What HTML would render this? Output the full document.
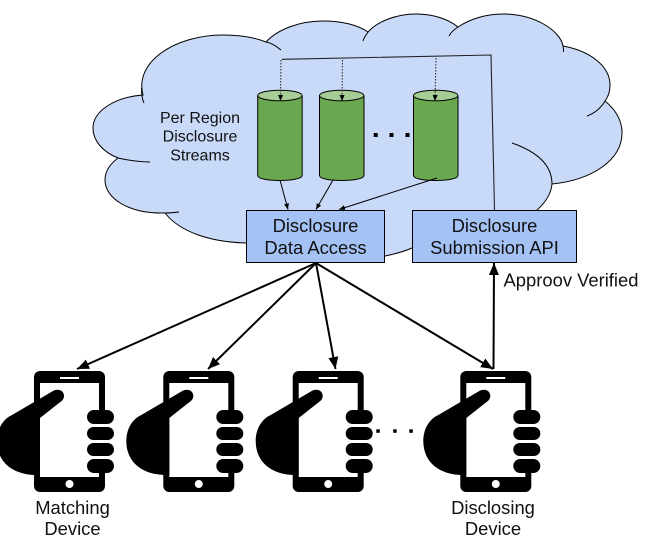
<!DOCTYPE html>
<html lang="en">
<head>
<meta charset="utf-8">
<title>Disclosure Architecture</title>
<style>
html,body{margin:0;padding:0;background:#fff;width:656px;height:541px;overflow:hidden}
svg{display:block}
text{font-family:"Liberation Sans",Arial,sans-serif;fill:#111;text-anchor:middle}
.m{font-size:18.4px}
.s{font-size:16px}
</style>
</head>
<body>
<svg width="656" height="541" viewBox="0 0 656 541" xmlns="http://www.w3.org/2000/svg">
<defs>
<marker id="big" markerUnits="userSpaceOnUse" markerWidth="14" markerHeight="12" refX="12" refY="5" orient="auto">
<path d="M0,0 L12,5 L0,10 Z" fill="#000"/>
</marker>
<marker id="small" markerUnits="userSpaceOnUse" markerWidth="7" markerHeight="7" refX="6" refY="2.5" orient="auto">
<path d="M0,0 L6,2.5 L0,5 Z" fill="#000"/>
</marker>
<g id="phone">
<rect x="0" y="0" width="71" height="121" rx="6" fill="#000"/>
<rect x="6" y="12" width="59" height="94" fill="#fff"/>
<rect x="26" y="6" width="19" height="2" fill="#fff"/>
<circle cx="35.5" cy="113" r="4" fill="#fff"/>
<rect x="53" y="40" width="18.5" height="62" fill="#fff"/>
<rect x="53" y="39" width="27" height="14" rx="7" fill="#000"/>
<rect x="53" y="56" width="27" height="13" rx="6.5" fill="#000"/>
<rect x="53" y="72" width="27" height="13" rx="6.5" fill="#000"/>
<rect x="53" y="88" width="27" height="14" rx="7" fill="#000"/>
<path d="M6,104 C-20,105 -37,92 -37,70 C-37,58 -31,48 -22,44 L19,20 C25,17 30,20 30,25 C30,28 28,30 25,32 L6,47 Z" fill="#000"/>
</g>
<g id="cyl">
<path d="M0.5,6 V85.5 C0.5,88.5 10,90.5 22.5,90.5 C35,90.5 45,88.5 45,85.5 V6 Z" fill="#6aa84f" stroke="#000" stroke-width="1"/>
<ellipse cx="22.7" cy="95.5" rx="22.2" ry="5.3" transform="translate(0,-90)" fill="#a6cd95" stroke="#000" stroke-width="1"/>
</g>
</defs>

<!-- cloud -->
<path d="M143,95 C134,62 175,35 223,35 C242,35 256,38 266,42 C278,29 300,21 323,21 C342,21 358,25 368,32 C378,21 397,14 416,14 C433,14 448,19 458,27 C470,19 486,14 503,14 C534,14 560,30 563,46 C590,51 610,66 610,85 C610,91 608,97 605,101 C616,110 622,121 622,133 C622,160 592,180 552,184 C551,194 545,203 537,210 L500,240 L412,248 C403,252 395,254 385,256 L316,258 L246,243 C210,242 180,232 165,213 C130,214 105,199 105,180 C105,171 110,164 118,158 C103,152 93,141 93,128 C93,111 115,97 143,95 Z" fill="#c9daf8" stroke="#000" stroke-width="1"/>
<g fill="none" stroke="#000" stroke-width="1">
<path d="M141.5,88 C141.5,93 142,99 144,103"/>
<path d="M266,42 C272,43 277,47 281,50"/>
<path d="M368,32 C367,34 364,37 363,41"/>
<path d="M458,27 C455,29 451,32 449,36"/>
<path d="M563,46 C563.5,48 563.5,50 563.5,52"/>
<path d="M605,101 C601,108 595,113 587,116"/>
<path d="M552,184 C552,164 535,151 512,143"/>
<path d="M118,158 C127,160 138,162 150,162"/>
<path d="M165,213 C170,213 175,212.5 179,212"/>
</g>

<!-- cylinders -->
<use href="#cyl" x="257.2" y="90"/>
<use href="#cyl" x="319" y="90"/>
<use href="#cyl" x="413" y="90"/>

<!-- dashed feeds -->
<path d="M281,60 L280.5,101" fill="none" stroke="#222" stroke-width="1" stroke-dasharray="1.5 1.5" marker-end="url(#small)"/>
<path d="M342.5,60 L342,101" fill="none" stroke="#222" stroke-width="1" stroke-dasharray="1.5 1.5" marker-end="url(#small)"/>
<path d="M436,58 L435,101" fill="none" stroke="#222" stroke-width="1" stroke-dasharray="1.5 1.5" marker-end="url(#small)"/>

<!-- topic line -->
<path d="M282,59.3 L491,55 L494.5,210" fill="none" stroke="#222" stroke-width="1.1"/>

<!-- thin arrows -->
<g fill="none" stroke="#000" stroke-width="1">
<path d="M280,180 L288,209.5" marker-end="url(#small)"/>
<path d="M333,180 L316,209.5" marker-end="url(#small)"/>
<path d="M437,178 L339,209.5" marker-end="url(#small)"/>
</g>

<!-- dots -->
<g fill="#000">
<rect x="373.7" y="133" width="4" height="4"/>
<rect x="389.5" y="133" width="4" height="4"/>
<rect x="405.5" y="133" width="4" height="4"/>
<rect x="376.3" y="429.3" width="3.5" height="3.5"/>
<rect x="393.2" y="429.3" width="3.5" height="3.5"/>
<rect x="409.3" y="429.3" width="3.5" height="3.5"/>
</g>

<!-- boxes -->
<rect x="246.5" y="210.5" width="138" height="52" fill="#a4c2f4" stroke="#000" stroke-width="1"/>
<rect x="412.5" y="210.5" width="164" height="52" fill="#a4c2f4" stroke="#000" stroke-width="1"/>

<!-- phones -->
<use href="#phone" x="34" y="371"/>
<use href="#phone" x="163.3" y="371"/>
<use href="#phone" x="292.7" y="371"/>
<use href="#phone" x="460.3" y="371"/>

<!-- thick arrows -->
<g fill="none" stroke="#000" stroke-width="2">
<path d="M316,263 L77,369" marker-end="url(#big)"/>
<path d="M316,263 L208,369" marker-end="url(#big)"/>
<path d="M316,263 L335.5,369" marker-end="url(#big)"/>
<path d="M316,263 L493,369" marker-end="url(#big)"/>
<path d="M493.5,369 L494,263" marker-end="url(#big)"/>
</g>

<!-- labels -->
<text class="s" x="200" y="123">Per Region</text>
<text class="s" x="200" y="141.7">Disclosure</text>
<text class="s" x="200" y="160.7">Streams</text>
<text class="m" x="315.5" y="232">Disclosure</text>
<text class="m" x="315.5" y="254">Data Access</text>
<text class="m" x="494.5" y="232">Disclosure</text>
<text class="m" x="494.5" y="254">Submission API</text>
<text class="m" x="571" y="286.7">Approov Verified</text>
<text class="m" x="72.5" y="514">Matching</text>
<text class="m" x="72.5" y="535">Device</text>
<text class="m" x="493" y="514">Disclosing</text>
<text class="m" x="493" y="535">Device</text>
</svg>
</body>
</html>
